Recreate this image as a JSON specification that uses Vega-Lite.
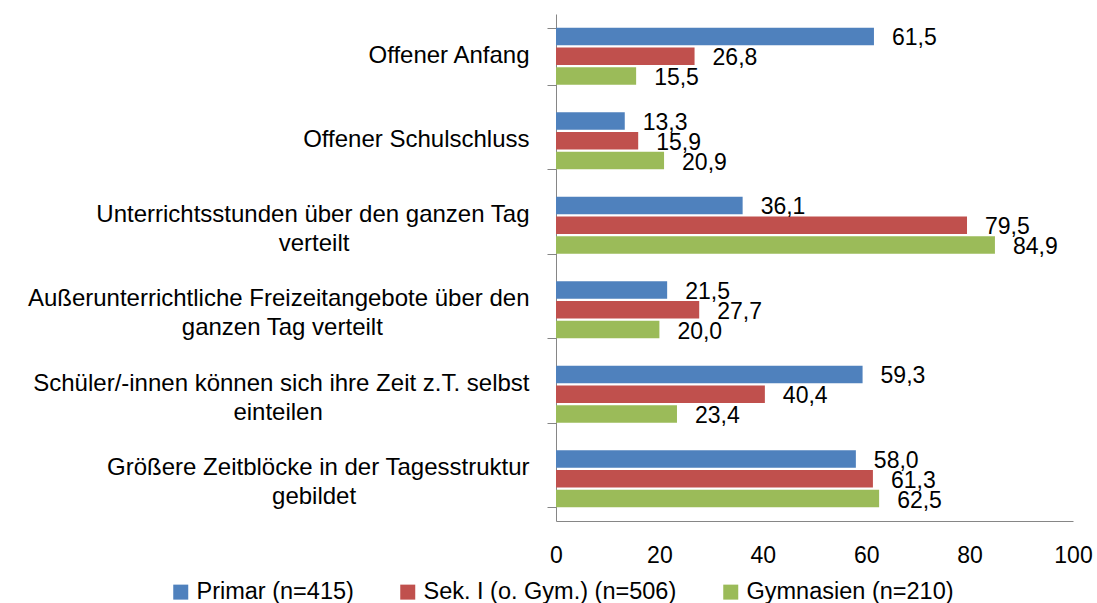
{
  "$schema": "https://vega.github.io/schema/vega-lite/v6.json",
  "width": 517,
  "height": 507,
  "autosize": {"type": "none"},
  "padding": {"left": 556, "top": 14, "right": 24, "bottom": 82},
  "background": "white",
  "config": {
    "font": "Liberation Sans",
    "view": {"stroke": null},
    "locale": {"number": {"decimal": ",", "thousands": ".", "grouping": [3], "currency": ["", " €"]}}
  },
  "data": {
    "values": [
      {"kategorie": "Offener Anfang", "gruppe": "Primar (n=415)", "wert": 61.5},
      {"kategorie": "Offener Anfang", "gruppe": "Sek. I (o. Gym.) (n=506)", "wert": 26.8},
      {"kategorie": "Offener Anfang", "gruppe": "Gymnasien (n=210)", "wert": 15.5},
      {"kategorie": "Offener Schulschluss", "gruppe": "Primar (n=415)", "wert": 13.3},
      {"kategorie": "Offener Schulschluss", "gruppe": "Sek. I (o. Gym.) (n=506)", "wert": 15.9},
      {"kategorie": "Offener Schulschluss", "gruppe": "Gymnasien (n=210)", "wert": 20.9},
      {"kategorie": "Unterrichtsstunden über den ganzen Tag verteilt", "gruppe": "Primar (n=415)", "wert": 36.1},
      {"kategorie": "Unterrichtsstunden über den ganzen Tag verteilt", "gruppe": "Sek. I (o. Gym.) (n=506)", "wert": 79.5},
      {"kategorie": "Unterrichtsstunden über den ganzen Tag verteilt", "gruppe": "Gymnasien (n=210)", "wert": 84.9},
      {"kategorie": "Außerunterrichtliche Freizeitangebote über den ganzen Tag verteilt", "gruppe": "Primar (n=415)", "wert": 21.5},
      {"kategorie": "Außerunterrichtliche Freizeitangebote über den ganzen Tag verteilt", "gruppe": "Sek. I (o. Gym.) (n=506)", "wert": 27.7},
      {"kategorie": "Außerunterrichtliche Freizeitangebote über den ganzen Tag verteilt", "gruppe": "Gymnasien (n=210)", "wert": 20.0},
      {"kategorie": "Schüler/-innen können sich ihre Zeit z.T. selbst einteilen", "gruppe": "Primar (n=415)", "wert": 59.3},
      {"kategorie": "Schüler/-innen können sich ihre Zeit z.T. selbst einteilen", "gruppe": "Sek. I (o. Gym.) (n=506)", "wert": 40.4},
      {"kategorie": "Schüler/-innen können sich ihre Zeit z.T. selbst einteilen", "gruppe": "Gymnasien (n=210)", "wert": 23.4},
      {"kategorie": "Größere Zeitblöcke in der Tagesstruktur gebildet", "gruppe": "Primar (n=415)", "wert": 58.0},
      {"kategorie": "Größere Zeitblöcke in der Tagesstruktur gebildet", "gruppe": "Sek. I (o. Gym.) (n=506)", "wert": 61.3},
      {"kategorie": "Größere Zeitblöcke in der Tagesstruktur gebildet", "gruppe": "Gymnasien (n=210)", "wert": 62.5}
    ]
  },
  "encoding": {
    "y": {
      "field": "kategorie",
      "type": "nominal",
      "sort": [
        "Offener Anfang",
        "Offener Schulschluss",
        "Unterrichtsstunden über den ganzen Tag verteilt",
        "Außerunterrichtliche Freizeitangebote über den ganzen Tag verteilt",
        "Schüler/-innen können sich ihre Zeit z.T. selbst einteilen",
        "Größere Zeitblöcke in der Tagesstruktur gebildet"
      ],
      "scale": {"paddingInner": 0.325, "paddingOuter": 0.1625},
      "axis": {
        "title": null,
        "domainColor": "#868686",
        "tickColor": "#868686",
        "tickSize": 9,
        "tickBand": "extent",
        "labelFontSize": 24,
        "labelColor": "black",
        "labelPadding": 18,
        "labelLineHeight": 29,
        "labelLimit": 600,
        "labelAlign": "right",
        "labelBaseline": "middle",
        "labelOffset": {"condition": {"test": "datum.value == 'Offener Anfang' || datum.value == 'Offener Schulschluss'", "value": -1}, "value": -11},
        "labelExpr": "datum.value == 'Unterrichtsstunden über den ganzen Tag verteilt' ? ['Unterrichtsstunden über den ganzen Tag', pad('verteilt', 35, '\u00a0') + '\u200b'] : datum.value == 'Außerunterrichtliche Freizeitangebote über den ganzen Tag verteilt' ? ['Außerunterrichtliche Freizeitangebote über den', pad('ganzen Tag verteilt', 41, '\u00a0') + '\u200b'] : datum.value == 'Schüler/-innen können sich ihre Zeit z.T. selbst einteilen' ? ['Schüler/-innen können sich ihre Zeit z.T. selbst', pad('einteilen', 40, '\u00a0') + '\u200b'] : datum.value == 'Größere Zeitblöcke in der Tagesstruktur gebildet' ? ['Größere Zeitblöcke in der Tagesstruktur', pad('gebildet', 34, '\u00a0') + '\u200b'] : datum.value"
      }
    },
    "yOffset": {
      "field": "gruppe",
      "type": "nominal",
      "sort": ["Primar (n=415)", "Sek. I (o. Gym.) (n=506)", "Gymnasien (n=210)"],
      "scale": {"paddingInner": 0.12, "paddingOuter": 0}
    },
    "x": {
      "field": "wert",
      "type": "quantitative",
      "scale": {"domain": [0, 100], "nice": false},
      "axis": {
        "title": null,
        "values": [0, 20, 40, 60, 80, 100],
        "tickSize": 0,
        "grid": false,
        "domainColor": "#868686",
        "labelFontSize": 23,
        "labelColor": "black",
        "labelPadding": 23,
        "format": "d",
        "labelFlush": false,
        "labelOverlap": false
      }
    }
  },
  "layer": [
    {
      "mark": {"type": "bar"},
      "encoding": {
        "color": {
          "field": "gruppe",
          "type": "nominal",
          "scale": {
            "domain": ["Primar (n=415)", "Sek. I (o. Gym.) (n=506)", "Gymnasien (n=210)"],
            "range": ["#4F81BD", "#C0504D", "#9BBB59"]
          },
          "legend": {
            "title": null,
            "orient": "none",
            "legendX": -387,
            "legendY": 566,
            "direction": "horizontal",
            "symbolType": "square",
            "symbolSize": 225,
            "symbolStrokeWidth": 0,
            "symbolOpacity": 1,
            "labelFontSize": 23.5,
            "labelColor": "black",
            "labelOffset": 4,
            "columnPadding": 42,
            "labelLimit": 400
          }
        }
      }
    },
    {
      "mark": {"type": "text", "align": "left", "baseline": "middle", "dx": 18, "dy": 2, "fontSize": 23, "color": "black"},
      "encoding": {
        "text": {"field": "wert", "type": "quantitative", "format": ".1f"}
      }
    }
  ]
}
